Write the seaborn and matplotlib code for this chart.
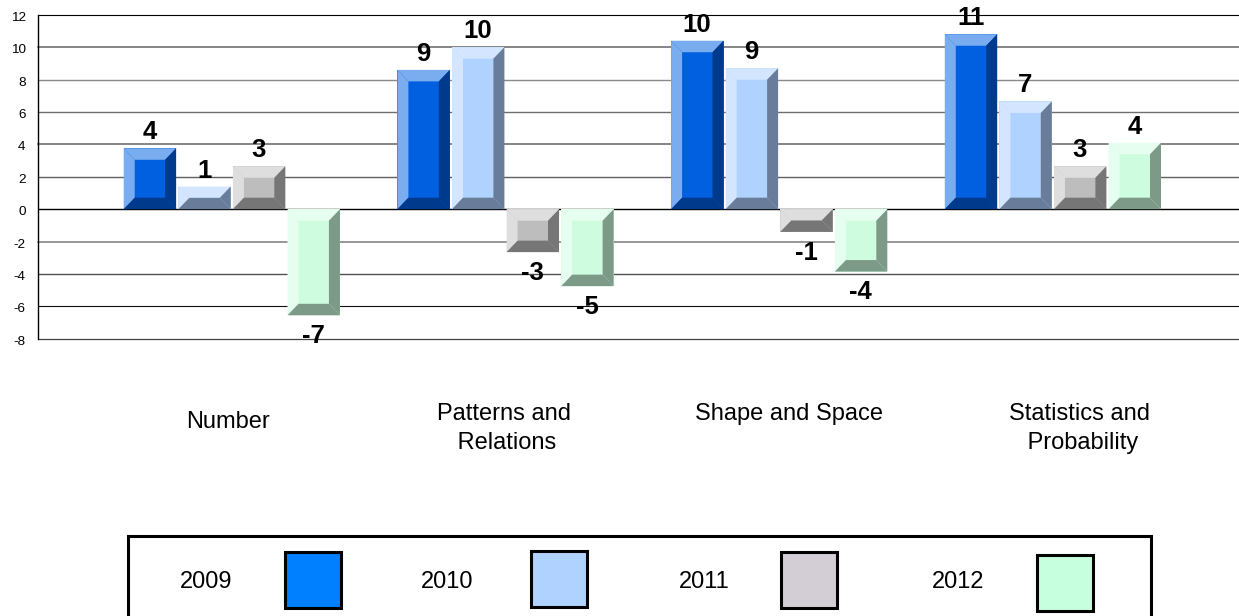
import matplotlib
matplotlib.use("Agg")
import matplotlib.pyplot as plt
from matplotlib.patches import Polygon, Rectangle
from matplotlib.transforms import ScaledTranslation
import pandas as pd
import seaborn as sns

categories = ["Number", "Patterns and\n Relations", "Shape and Space", "Statistics and\n Probability"]
years = ["2009", "2010", "2011", "2012"]
values_2009 = [3.76, 8.6, 10.4, 10.8]
values_2010 = [1.4, 10.0, 8.7, 6.65]
values_2011 = [2.65, -2.65, -1.4, 2.65]
values_2012 = [-6.55, -4.75, -3.85, 4.1]
inner_colors = ["#0060e0", "#afd2ff", "#bdbdbd", "#cdfcdf"]
light_colors = ["#7aacf0", "#d3e5ff", "#dedede", "#e6feef"]
dark_colors = ["#003a8c", "#697d9a", "#767676", "#7c9a87"]
legend_colors = ["#007fff", "#afd2ff", "#d3ced6", "#c5ffdd"]
y_ticks = list(range(-8, 14, 2))
# gridline rendering per tick, top to bottom as seen in the reference
grid_styles = {
    12: ("#000000", 0.8), 10: ("#858585", 1.4), 8: ("#8a8a8a", 1.0), 6: ("#6e6e6e", 1.0),
    4: ("#858585", 1.4), 2: ("#606060", 1.0), 0: ("#000000", 1.0), -2: ("#858585", 1.2),
    -4: ("#505050", 1.0), -6: ("#111111", 0.8), -8: ("#404040", 0.9),
}

W, H = 1239, 616
sns.set_style("white")
plt.rcParams["font.family"] = ["Liberation Sans", "DejaVu Sans"]
plt.rcParams["text.color"] = "black"
plt.rcParams["axes.labelcolor"] = "black"
plt.rcParams["xtick.color"] = "black"
plt.rcParams["ytick.color"] = "black"
plt.rcParams["axes.unicode_minus"] = False

df = pd.DataFrame({
    "category": categories * 4,
    "year": [y for y in years for _ in categories],
    "value": values_2009 + values_2010 + values_2011 + values_2012,
})

fig = plt.figure(figsize=(W / 100, H / 100), dpi=100)
L, R, T, B = 37.5, 1239, 14.8, 338.8
ax = fig.add_axes([L / W, 1 - B / H, (R - L) / W, (B - T) / H])
sns.barplot(data=df, x="category", y="value", hue="year", hue_order=years,
            palette=inner_colors, width=0.798, gap=0.04, errorbar=None,
            saturation=1, legend=False, ax=ax, zorder=3)
ax.set_xlim(-0.71, 3.68)
ax.set_ylim(-8, 12)
ax.set_xlabel("")
ax.set_ylabel("")
ax.set_yticks(y_ticks)
ax.tick_params(axis="y", length=0, pad=8.5, labelsize=9.7, labelcolor="black")
ax.tick_params(axis="x", length=0)
ax.set_axisbelow(True)
for lab in ax.get_yticklabels():
    lab.set_transform(lab.get_transform() + ScaledTranslation(0, -1.5 / 100, fig.dpi_scale_trans))
for tick_value, (color, lw) in grid_styles.items():
    ax.axhline(tick_value, color=color, lw=lw, zorder=2, clip_on=False)
for s in ["right", "bottom", "top"]:
    ax.spines[s].set_visible(False)
ax.spines["left"].set_color("black")
ax.spines["left"].set_linewidth(1.0)

# category labels: offsets (px) from the tick position, as in the source layout
offs = [(-4, -61.3), (-2, -53.3), (10, -53.3), (27, -53.3)]
ax.set_xticks(range(4))
ax.set_xticklabels(categories, fontsize=17, linespacing=1.39, color="black")
for lab, (ox, oy) in zip(ax.get_xticklabels(), offs):
    lab.set_va("top")
    lab.set_transform(lab.get_transform() + ScaledTranslation(ox / 100, (oy - 6) / 100, fig.dpi_scale_trans))

# bevels derived from the bar rectangles
px_x = (3.68 + 0.71) / (R - L)
px_y = 20 / (B - T)
dx = 11 * px_x
dy = 11.5 * px_y
bars = [p for p in ax.patches if isinstance(p, Rectangle)][:16]
for i, bar in enumerate(bars):
    hue_i = i // 4
    x0, w = bar.get_x(), bar.get_width()
    y0, y1 = sorted([bar.get_y(), bar.get_y() + bar.get_height()])
    x1 = x0 + w
    d = min(dy, (y1 - y0) / 2)
    ix0, ix1, iy0, iy1 = x0 + dx, x1 - dx, y0 + d, y1 - d
    bar.set_linewidth(0)
    light, dark = light_colors[hue_i], dark_colors[hue_i]
    ax.add_patch(Polygon([(x0, y0), (x0, y1), (ix0, iy1), (ix0, iy0)], fc=light, lw=0, zorder=4))
    ax.add_patch(Polygon([(x0, y1), (x1, y1), (ix1, iy1), (ix0, iy1)], fc=light, lw=0, zorder=4))
    ax.add_patch(Polygon([(x1, y1), (x1, y0), (ix1, iy0), (ix1, iy1)], fc=dark, lw=0, zorder=4))
    ax.add_patch(Polygon([(x0, y0), (x1, y0), (ix1, iy0), (ix0, iy0)], fc=dark, lw=0, zorder=4))
    top = y1 > 0
    v = y1 if top else y0
    ax.annotate(f"{round(v)}", (x0 + w / 2, v),
                xytext=(-0.3, 11.5 if top else -15), textcoords="offset points",
                ha="center", va="center", fontsize=18.5, fontweight="bold",
                color="black", annotation_clip=False, zorder=6)

# legend panel, figure pixel layout
overlay = fig.add_axes([0, 0, 1, 1], facecolor="none")
overlay.set_xlim(0, W)
overlay.set_ylim(H, 0)
overlay.axis("off")
overlay.add_patch(Rectangle((127.5, 536), 1023, 100, fc="white", ec="black", lw=2.2))
label_x = [206, 447, 704, 958]
swatch_x = [285, 531, 781, 1037]
swatch_y = [552, 551, 552, 555]
for yr, lx, sx, sy, c in zip(years, label_x, swatch_x, swatch_y, legend_colors):
    overlay.text(lx, 581.5, yr, ha="center", va="center", fontsize=17, color="black")
    overlay.add_patch(Rectangle((sx, sy), 55.5, 55.5, fc=c, ec="black", lw=2.2))

fig.savefig("out.png", dpi=100, facecolor="white")
